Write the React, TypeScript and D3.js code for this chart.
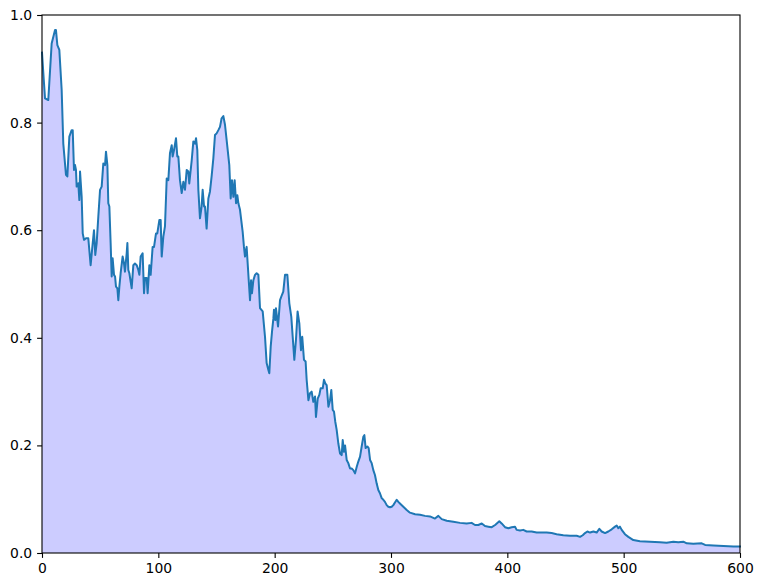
import React, { useEffect, useRef } from 'react';
import * as d3 from 'd3';

// values
const xVals = [
  0, 1.5, 2.6, 5.4, 8.3, 11.2, 12, 13.2, 14.9, 16.9, 18.3, 20.6, 21.8, 23.5, 25.5, 26.4, 27.5, 28.4, 29.2, 29.8,
  31.2, 32.1, 32.7, 34.1, 35, 36.1, 37.8, 39.8, 41.8, 43.6, 44.7, 45.8, 47, 48.4, 49.9, 51.3, 52.7, 54.2, 55, 56.2,
  57, 57.9, 59, 59.9, 60.7, 61.9, 62.8, 63.6, 64.8, 65.6, 66.5, 67.6, 69.3, 70.5, 71.3, 72.8, 73.4, 74.2, 75.1, 77.1,
  78.5, 79.9, 81.4, 82.8, 83.7, 84.8, 86.5, 87.7, 88.5, 90, 90.8, 92.3, 93.4, 95.1, 96.3, 98, 99.1, 100.9, 102, 102.9,
  104.3, 105.7, 107.2, 108.6, 110, 111.5, 112.3, 113.5, 115.2, 116.3, 117.2, 118.6, 120.1, 121.5, 122.9, 124.4, 125.8, 126.6, 128.7, 130.1,
  131.5, 132.4, 133.5, 134.4, 135.8, 137.2, 138.1, 139.3, 140.1, 141.5, 143, 144.4, 145.8, 147.3, 148.7, 150.1, 151.6, 153, 154.4, 155.9,
  157.3, 158.7, 161, 162.2, 163.3, 164.5, 165.6, 166.8, 167.9, 168.8, 170.2, 172.5, 173.6, 174.5, 175.9, 176.8, 177.7, 178.8, 179.7, 180.5,
  181.7, 183.1, 184.5, 186, 187.4, 189.7, 191.7, 193.1, 194.6, 195.4, 196.6, 197.7, 198.9, 199.4, 200.6, 201.1, 202.9, 204.6, 206.3, 207.4,
  208.9, 210.9, 212.6, 214.3, 215.5, 216.9, 218.3, 219.7, 221.2, 222.6, 223.7, 225.2, 226.6, 227.5, 229, 230.4, 231.8, 233.2, 234.7, 235.5,
  237, 238.4, 239.5, 241.3, 242.4, 243.6, 244.7, 246.2, 247.6, 248.7, 249.9, 251, 252.1, 253.3, 254.7, 256.2, 257.6, 258.5, 259.6, 260.5,
  261.9, 263.3, 264.8, 266.2, 267.6, 269.1, 270.5, 271.9, 273.4, 274.8, 276.2, 277.1, 278.2, 279.7, 280.8, 282, 283.4, 284.8, 286.2, 287.7,
  289.1, 290.5, 292, 293.4, 294.8, 296.3, 297.7, 299.1, 300.6, 302, 303.4, 304.9, 306.3, 307.7, 310.6, 313.5, 316.3, 320.7, 325, 329.2,
  333.5, 337.8, 340.7, 343.6, 347.9, 353.6, 359.3, 365, 369.3, 372.2, 375.1, 378, 380.8, 383.7, 386.6, 389.5, 393.1, 395.1, 398, 400.9,
  403.7, 406.6, 408, 410.9, 413.7, 416.6, 420.9, 425.2, 429.5, 433.8, 438.1, 442.4, 448.1, 453.9, 459.6, 462.5, 464.8, 466.8, 468.8, 471.1,
  474, 476.8, 479.1, 481.1, 484, 486.8, 489.7, 492.6, 494, 495.4, 496.8, 498.3, 501.1, 504, 508.3, 514, 522.6, 531.2, 536.9, 542.7,
  547, 551.3, 554.2, 559.9, 567.1, 570, 577.2, 585.8, 594.4, 600
];

const yVals = [
  0.93, 0.88, 0.845, 0.842, 0.947, 0.972, 0.972, 0.944, 0.935, 0.861, 0.761, 0.703, 0.7, 0.774, 0.786, 0.786, 0.712, 0.721, 0.712, 0.681,
  0.687, 0.656, 0.709, 0.662, 0.594, 0.582, 0.585, 0.585, 0.535, 0.576, 0.6, 0.554, 0.576, 0.625, 0.675, 0.681, 0.724, 0.721, 0.746, 0.721,
  0.65, 0.644, 0.576, 0.514, 0.548, 0.517, 0.514, 0.495, 0.492, 0.47, 0.495, 0.52, 0.551, 0.538, 0.523, 0.557, 0.576, 0.526, 0.52, 0.492,
  0.535, 0.538, 0.535, 0.526, 0.517, 0.551, 0.557, 0.483, 0.511, 0.511, 0.483, 0.535, 0.517, 0.569, 0.569, 0.594, 0.594, 0.619, 0.619, 0.551,
  0.588, 0.607, 0.696, 0.693, 0.743, 0.758, 0.737, 0.749, 0.771, 0.737, 0.737, 0.693, 0.669, 0.69, 0.675, 0.712, 0.709, 0.687, 0.73, 0.765,
  0.761, 0.771, 0.749, 0.675, 0.622, 0.644, 0.675, 0.644, 0.644, 0.603, 0.659, 0.672, 0.7, 0.734, 0.777, 0.78, 0.786, 0.792, 0.808, 0.812,
  0.796, 0.768, 0.721, 0.659, 0.693, 0.662, 0.693, 0.65, 0.665, 0.65, 0.638, 0.597, 0.569, 0.551, 0.569, 0.538, 0.507, 0.47, 0.507, 0.483,
  0.507, 0.517, 0.52, 0.517, 0.455, 0.449, 0.402, 0.353, 0.34, 0.334, 0.384, 0.411, 0.436, 0.452, 0.433, 0.455, 0.421, 0.47, 0.48, 0.486,
  0.517, 0.517, 0.464, 0.439, 0.402, 0.359, 0.396, 0.449, 0.427, 0.377, 0.402, 0.359, 0.356, 0.322, 0.284, 0.297, 0.3, 0.281, 0.291, 0.253,
  0.287, 0.294, 0.306, 0.306, 0.322, 0.315, 0.312, 0.272, 0.284, 0.303, 0.266, 0.263, 0.244, 0.229, 0.204, 0.185, 0.182, 0.21, 0.188, 0.2,
  0.173, 0.167, 0.157, 0.157, 0.154, 0.148, 0.16, 0.17, 0.179, 0.198, 0.216, 0.219, 0.195, 0.198, 0.195, 0.173, 0.167, 0.154, 0.145, 0.129,
  0.117, 0.111, 0.102, 0.099, 0.095, 0.089, 0.086, 0.085, 0.086, 0.089, 0.094, 0.099, 0.095, 0.092, 0.086, 0.08, 0.075, 0.072, 0.071, 0.069,
  0.068, 0.064, 0.069, 0.063, 0.06, 0.058, 0.056, 0.055, 0.056, 0.052, 0.052, 0.055, 0.05, 0.049, 0.048, 0.052, 0.059, 0.055, 0.048, 0.046,
  0.048, 0.049, 0.043, 0.042, 0.043, 0.04, 0.04, 0.038, 0.038, 0.038, 0.037, 0.035, 0.033, 0.032, 0.032, 0.03, 0.033, 0.037, 0.04, 0.038,
  0.04, 0.038, 0.045, 0.04, 0.037, 0.04, 0.044, 0.049, 0.051, 0.046, 0.049, 0.043, 0.035, 0.03, 0.024, 0.022, 0.021, 0.02, 0.019, 0.021,
  0.02, 0.021, 0.018, 0.017, 0.018, 0.015, 0.014, 0.013, 0.012, 0.012
];

const xTicks = [0, 100, 200, 300, 400, 500, 600];
const yTicks = [0, 0.2, 0.4, 0.6, 0.8, 1.0];

const App = () => {
  const ref = useRef<SVGSVGElement>(null);

  useEffect(() => {
    const W = 762, H = 588;
    const margin = { top: 15, right: 22, bottom: 35, left: 42 };
    const w = W - margin.left - margin.right;
    const h = H - margin.top - margin.bottom;

    const svg = d3.select(ref.current);
    svg.selectAll('*').remove();
    const g = svg.append('g').attr('transform', `translate(${margin.left}, ${margin.top})`);

    const x = d3.scaleLinear().domain([0, 600]).range([0, w]);
    const y = d3.scaleLinear().domain([0, 1]).range([h, 0]);

    const data = xVals.map((v, i) => ({ x: v, y: yVals[i] }));

    // filled area under the curve
    const area = d3.area<{ x: number; y: number }>()
      .x(d => x(d.x)).y0(y(0)).y1(d => y(d.y));
    g.append('path').datum(data)
      .attr('d', area)
      .attr('fill', '#ccccff')
      .attr('stroke', 'none');

    const line = d3.line<{ x: number; y: number }>()
      .x(d => x(d.x)).y(d => y(d.y));
    g.append('path').datum(data)
      .attr('d', line)
      .attr('fill', 'none')
      .attr('stroke', '#1f77b4')
      .attr('stroke-width', 2)
      .attr('stroke-linejoin', 'round')
      .attr('stroke-linecap', 'square');

    // axes
    const font = '"DejaVu Sans", sans-serif';
    const xAxis = g.append('g').attr('transform', `translate(0, ${h})`)
      .call(d3.axisBottom(x).tickValues(xTicks).tickSize(4.9).tickPadding(4.9).tickFormat(d3.format('d')));
    const yAxis = g.append('g')
      .call(d3.axisLeft(y).tickValues(yTicks).tickSize(4.9).tickPadding(4.9).tickFormat(d3.format('.1f')));
    [xAxis, yAxis].forEach(a => {
      a.select('.domain').remove();
      a.selectAll('line').attr('stroke', '#000').attr('stroke-width', 1.1);
      a.selectAll('text').attr('fill', '#000').style('font-family', font).style('font-size', '13.9px');
    });

    // frame
    g.append('rect')
      .attr('x', 0).attr('y', 0).attr('width', w).attr('height', h)
      .attr('fill', 'none').attr('stroke', '#000').attr('stroke-width', 1.1);
  }, []);

  return (
    <svg ref={ref} width={762} height={588}
      style={{ position: 'absolute', left: 0, top: 0, background: '#fff' }} />
  );
};

export default App;
